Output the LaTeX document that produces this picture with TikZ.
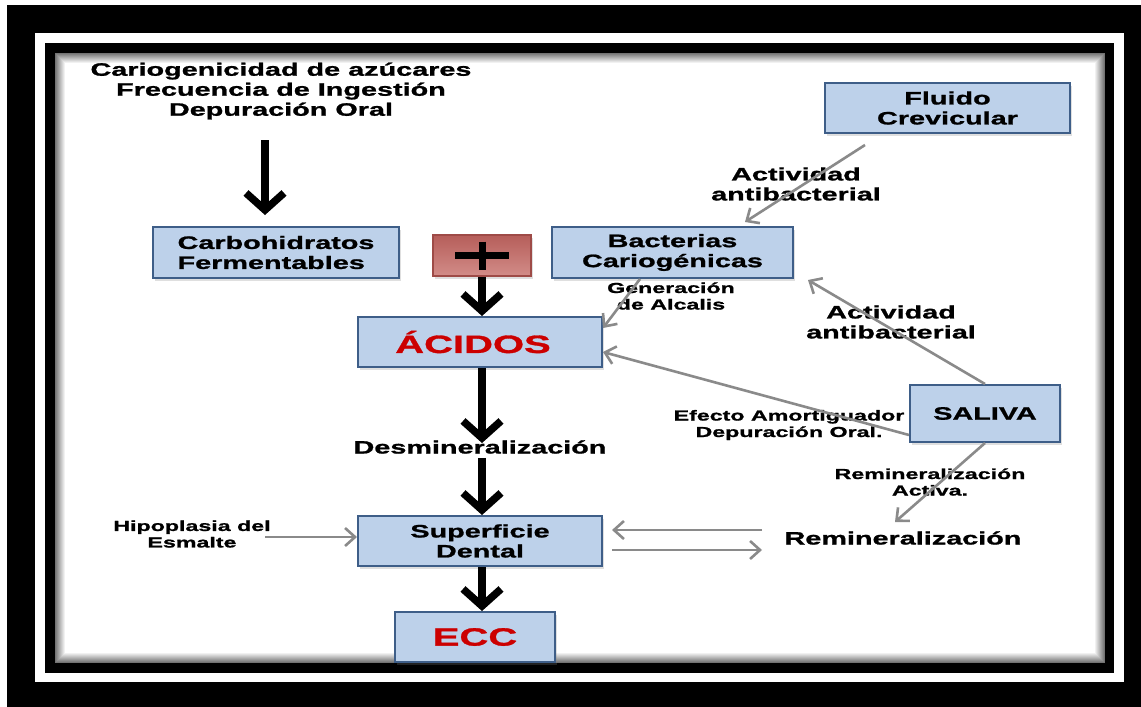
\documentclass[tikz,border=0pt]{standalone}
\usepackage{fontspec}
\setmainfont{Liberation Sans}[FakeStretch=1.6, BoldFeatures={FakeBold=1.2}]
\usetikzlibrary{arrows.meta,shadows}
\definecolor{boxfill}{HTML}{BDD1EA}
\definecolor{boxline}{HTML}{3E5E88}
\definecolor{agray}{HTML}{8A8A8A}
\definecolor{redtxt}{HTML}{CC0000}
\definecolor{plustop}{HTML}{B65E5A}
\definecolor{plusbot}{HTML}{D28C88}
\definecolor{plusline}{HTML}{9E4B47}
\newcommand{\bigf}{\fontsize{18}{20}\selectfont\bfseries}
\newcommand{\smallf}{\fontsize{14.5}{16.5}\selectfont\bfseries}
\newcommand{\redf}{\fontsize{25}{28}\selectfont\bfseries}
\tikzset{
  box/.style={draw=boxline, line width=2pt, fill=boxfill, inner sep=0pt,
    font=\bigf, align=center,
    drop shadow={opacity=0.25, shadow xshift=1.5pt, shadow yshift=-3pt}},
  lbl/.style={font=\bigf, align=center, inner sep=0pt},
  slbl/.style={font=\smallf, align=center, inner sep=0pt},
  blk/.style={line width=7.5pt, -{Straight Barb[length=17pt,width=38pt]}},
  gry/.style={draw=agray, line width=2.6pt, -{Straight Barb[length=10pt,width=18pt]}},
}
\begin{document}
\begin{tikzpicture}[x=1pt,y=-1pt]
\useasboundingbox (0,0) rectangle (1141,707);
% frame
\fill[black] (0,0) rectangle (1141,707);
\fill[white] (0,0) rectangle (1141,5);
\fill[white] (0,0) rectangle (7,707);
\fill[white] (35,33) rectangle (1124,682);
\fill[black] (45,43) rectangle (1114,673);
\fill[white] (55,53) rectangle (1105,663);
\foreach \i in {0,...,9} {
  \pgfmathsetmacro{\g}{55-\i*5.5}
  \draw[black!\g, line width=1pt] (55.5+\i,53.5+\i) rectangle (1104.5-\i,662.5-\i);
}
% text blocks
\node[lbl] (top) at (281,91) {Cariogenicidad de azúcares\\Frecuencia de Ingestión\\Depuración Oral};
% boxes
\node[box, minimum width=246pt, minimum height=51pt, align=left] (carb) at (276,252.5) {Carbohidratos\\Fermentables};
\node[draw=plusline, line width=1.5pt, top color=plustop, bottom color=plusbot,
      minimum width=98pt, minimum height=41pt, inner sep=0pt,
      drop shadow={opacity=0.25, shadow xshift=1.5pt, shadow yshift=-3pt}] (plus) at (482,255.5) {};
\draw[line width=7pt] ([xshift=-27pt]plus.center) -- ([xshift=27pt]plus.center);
\draw[line width=7pt] ([yshift=14pt]plus.center) -- ([yshift=-14pt]plus.center);
\node[box, minimum width=241pt, minimum height=51pt] (bact) at (672.5,252.5) {Bacterias\\Cariogénicas};
\node[box, minimum width=245pt, minimum height=50pt] (fluido) at (947.5,108) {Fluido\\Crevicular};
\node[box, minimum width=244pt, minimum height=50pt, font=\redf, text=redtxt] (acidos) at (480,342) {\hspace*{-14pt}ÁCIDOS};
\node[box, minimum width=244pt, minimum height=50pt] (sup) at (480,541) {Superficie\\Dental};
\node[box, minimum width=160pt, minimum height=50pt, font=\redf, text=redtxt] (ecc) at (475,637) {ECC};
\node[box, minimum width=150pt, minimum height=57pt] (saliva) at (985,413.5) {SALIVA};
% labels
\node[slbl] (gen) at (671,296) {Generación\\de Alcalis};
\node[lbl] (act1) at (796,184) {Actividad\\antibacterial};
\node[lbl] (act2) at (891,322) {Actividad\\antibacterial};
\node[slbl] (efecto) at (789,425) {Efecto Amortiguador\\Depuración Oral.};
\node[slbl] (remact) at (930,482) {Remineralización\\Activa.};
\node[lbl] (remin) at (903,538) {Remineralización};
\node[lbl] (desmin) at (480,447) {Desmineralización};
\node[slbl] (hipo) at (192,534) {Hipoplasia del\\Esmalte};
% free ends
\coordinate (a1s) at (265,140);
\coordinate (a1e) at (265,215);
\coordinate (f1) at (865,145);
\coordinate (b1) at (745,222);
\coordinate (b2) at (808,280);
\coordinate (r0) at (895,522);
\coordinate (r1) at (762,530);
\coordinate (r2) at (612,530);
\coordinate (r3) at (612,550);
\coordinate (r4) at (762,550);
\coordinate (h1) at (265,537);
% black arrows
\draw[blk] (a1s) -- (a1e);
\draw[blk] (plus.south) -- (plus.south |- acidos.north);
\draw[blk] (acidos.south -| plus.south) -- ++(0,75);
\draw[blk] (desmin.south -| plus.south) ++(0,4) -- (sup.north -| plus.south);
\draw[blk] (sup.south -| plus.south) -- (ecc.north -| plus.south);
% gray arrows
\draw[gry] (f1) -- (b1);
\draw[gry] (bact.south -| 640,0) -- (acidos.east |- 0,328);
\draw[gry] (saliva.west |- 0,435) -- (acidos.east |- 0,352);
\draw[gry] (saliva.north) -- (b2);
\draw[gry] (saliva.south) -- (r0);
\draw[gry] (r1) -- (r2);
\draw[gry] (r3) -- (r4);
\draw[gry] (h1) -- (sup.west |- h1);
\end{tikzpicture}
\end{document}
